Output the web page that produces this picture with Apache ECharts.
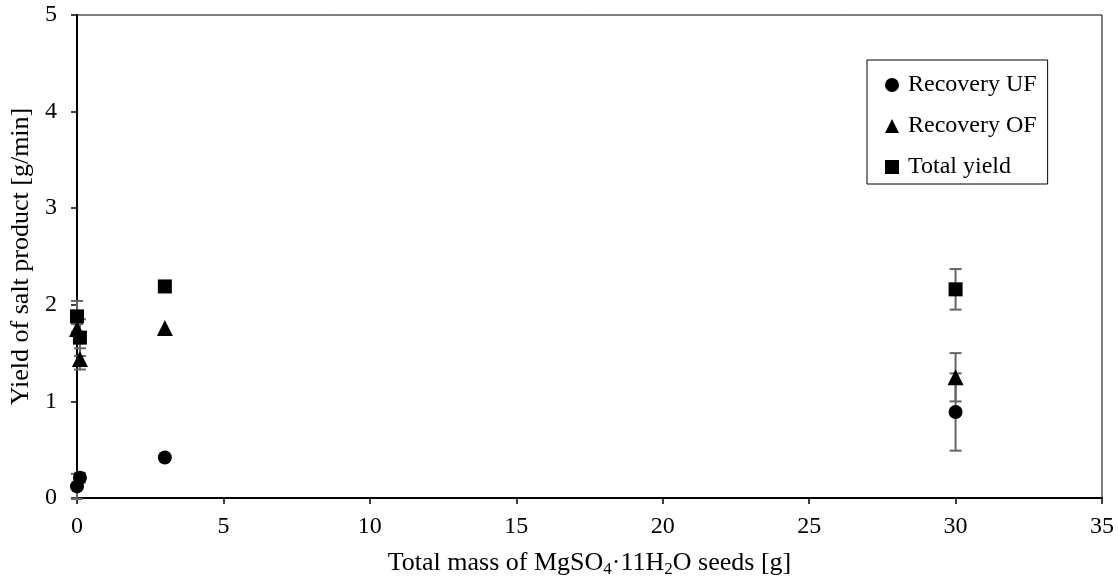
<!DOCTYPE html>
<html>
<head>
<meta charset="utf-8">
<script src="https://cdn.jsdelivr.net/npm/echarts@6/dist/echarts.min.js"></script>
<style>html,body{margin:0;padding:0;background:#fff}#c{width:1118px;height:583px}</style>
</head>
<body>
<div id="c"></div>
<script>
// Data (x = seed mass [g], y = yield [g/min], e = +/- error)
const seedMass = [0, 0.1, 3, 30];
const ufYield = [0.12, 0.21, 0.42, 0.89];
const ufErr = [0.13, 0.05, 0, 0.40];
const ofYield = [1.75, 1.44, 1.76, 1.25];
const ofErr = [0.05, 0.11, 0, 0.25];
const totalYield = [1.88, 1.66, 2.19, 2.16];
const totalErr = [0.16, 0.19, 0, 0.21];
const xTicks = [0, 5, 10, 15, 20, 25, 30, 35];
const yTicks = [0, 1, 2, 3, 4, 5];
const seriesNames = ['Recovery UF', 'Recovery OF', 'Total yield'];

const FONT = '"Liberation Serif", "Times New Roman", serif';

function pts(ys) { return seedMass.map((x, i) => [x, ys[i]]); }
function errPts(ys, es) { return seedMass.map((x, i) => [x, ys[i] - es[i], ys[i] + es[i]]); }

function errSeries(ys, es) {
  return {
    type: 'custom',
    silent: true,
    z: 1,
    data: errPts(ys, es).filter(d => d[2] > d[1]),
    renderItem: function (params, api) {
      const lo = api.coord([api.value(0), api.value(1)]);
      const hi = api.coord([api.value(0), api.value(2)]);
      const w = 6;
      const st = { stroke: '#666666', lineWidth: 2 };
      return {
        type: 'group',
        children: [
          { type: 'line', shape: { x1: lo[0], y1: lo[1], x2: hi[0], y2: hi[1] }, style: st },
          { type: 'line', shape: { x1: lo[0] - w, y1: lo[1], x2: lo[0] + w, y2: lo[1] }, style: st },
          { type: 'line', shape: { x1: hi[0] - w, y1: hi[1], x2: hi[0] + w, y2: hi[1] }, style: st }
        ]
      };
    }
  };
}

const chart = echarts.init(document.getElementById('c'), null, { renderer: 'canvas' });
const option = {
  animation: false,
  backgroundColor: '#fff',
  textStyle: { fontFamily: FONT, color: '#000' },
  grid: { left: 77, right: 16, top: 15, bottom: 83, show: true, borderColor: '#000', borderWidth: 1, backgroundColor: 'transparent' },
  legend: {
    orient: 'vertical',
    left: 867, top: 60,
    padding: [13, 11, 5, 18],
    itemGap: 17,
    itemWidth: 14, itemHeight: 14,
    borderColor: '#000', borderWidth: 1,
    textStyle: { fontFamily: FONT, fontSize: 24, color: '#000', padding: [0, 0, 0, 4] },
    data: [
      { name: seriesNames[0], icon: 'circle' },
      { name: seriesNames[1], icon: 'triangle' },
      { name: seriesNames[2], icon: 'rect' }
    ]
  },
  xAxis: {
    type: 'value', min: xTicks[0], max: xTicks[xTicks.length - 1], interval: xTicks[1] - xTicks[0],
    name: '{a|Total mass of MgSO}{s|4}{a|·11H}{s|2}{a|O seeds [g]}',
    nameLocation: 'middle', nameGap: 50,
    nameTextStyle: {
      rich: {
        a: { fontFamily: FONT, fontSize: 26, color: '#000', lineHeight: 30, verticalAlign: 'middle' },
        s: { fontFamily: FONT, fontSize: 17, color: '#000', lineHeight: 16, verticalAlign: 'bottom' }
      }
    },
    axisLine: { show: true, onZero: false, lineStyle: { color: '#000', width: 2 } },
    axisTick: { show: true, inside: false, length: 6, lineStyle: { color: '#000', width: 1.5 } },
    axisLabel: { fontFamily: FONT, fontSize: 24, color: '#000', margin: 17 },
    splitLine: { show: false }
  },
  yAxis: {
    type: 'value', min: yTicks[0], max: yTicks[yTicks.length - 1], interval: yTicks[1] - yTicks[0],
    name: 'Yield of salt product [g/min]',
    nameLocation: 'middle', nameGap: 38,
    nameTextStyle: { fontFamily: FONT, fontSize: 26, color: '#000' },
    axisLine: { show: true, onZero: false, lineStyle: { color: '#000', width: 2 } },
    axisTick: { show: true, inside: false, length: 6, lineStyle: { color: '#000', width: 1.5 } },
    axisLabel: { fontFamily: FONT, fontSize: 24, color: '#000', margin: 20 },
    splitLine: { show: false }
  },
  series: [
    errSeries(ufYield, ufErr),
    errSeries(ofYield, ofErr),
    errSeries(totalYield, totalErr),
    { name: seriesNames[0], type: 'scatter', symbol: 'circle', symbolSize: 14, z: 3, itemStyle: { color: '#000', opacity: 1 }, data: pts(ufYield) },
    { name: seriesNames[1], type: 'scatter', symbol: 'triangle', symbolSize: 16, z: 3, itemStyle: { color: '#000', opacity: 1 }, data: pts(ofYield) },
    { name: seriesNames[2], type: 'scatter', symbol: 'rect', symbolSize: 14, z: 3, itemStyle: { color: '#000', opacity: 1 }, data: pts(totalYield) }
  ]
};
chart.setOption(option);
</script>
</body>
</html>
